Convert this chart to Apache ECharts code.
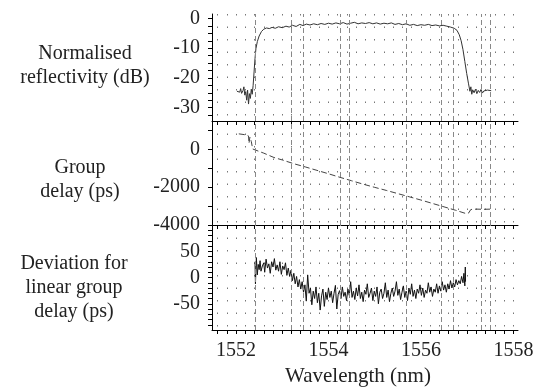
<!DOCTYPE html>
<html>
<head>
<meta charset="utf-8">
<script src="https://cdn.jsdelivr.net/npm/echarts@6/dist/echarts.min.js"></script>
<style>
  html, body { margin: 0; background: #fff; }
  #chart { width: 539px; height: 387px; }
</style>
</head>
<body>
<div id="chart"></div>
<script>
// wavelength axis (nm)
const wlLabels = [1552, 1554, 1556, 1558];
const wlTicks = [1551.6, 1551.8, 1552, 1552.2, 1552.4, 1552.6, 1552.8, 1553, 1553.2, 1553.4, 1553.6, 1553.8,
  1554, 1554.2, 1554.4, 1554.6, 1554.8, 1555, 1555.2, 1555.4, 1555.6, 1555.8, 1556, 1556.2, 1556.4,
  1556.6, 1556.8, 1557, 1557.2, 1557.4, 1557.6, 1557.8, 1558];
// darker dashed grid lines seen in the scan
const darkWl = [1552.41, 1553.2, 1553.45, 1554.25, 1554.45, 1555.68, 1556.45, 1556.7, 1557.3, 1557.5];

const reflLabels = [-30, -20, -10, 0];
const reflTicks = [-32.5, -30, -27.5, -25, -22.5, -20, -17.5, -15, -12.5, -10, -7.5, -5, -2.5, 0];
const delayLabels = [-4000, -2000, 0];
const delayTicks = [-4000, -3000, -2000, -1000, 0, 1000];
const devLabels = [-50, 0, 50];
const devTicks = [-90, -80, -70, -60, -50, -40, -30, -20, -10, 0, 10, 20, 30, 40, 50, 60, 70, 80, 90];

// normalised reflectivity [nm, dB]
const reflPts = [
  [1552.02, -24.5], [1552.05, -24.0], [1552.08, -24.8], [1552.10, -23.6], [1552.12, -25.2], [1552.15, -24.3],
  [1552.17, -23.0], [1552.19, -25.8], [1552.21, -24.6], [1552.23, -27.5], [1552.25, -24.1], [1552.27, -28.8],
  [1552.29, -25.3], [1552.31, -26.9], [1552.33, -23.8], [1552.35, -25.5], [1552.37, -22.5], [1552.39, -18.0],
  [1552.41, -13.5], [1552.43, -10.2], [1552.46, -7.8], [1552.50, -5.9], [1552.55, -4.4], [1552.60, -3.6],
  [1552.66, -3.2], [1552.72, -3.4], [1552.78, -3.0], [1552.85, -3.3], [1552.92, -2.8], [1553.00, -3.1],
  [1553.08, -2.6], [1553.15, -2.9], [1553.22, -2.3], [1553.30, -2.7], [1553.38, -2.0], [1553.45, -2.4],
  [1553.52, -1.9], [1553.60, -2.2], [1553.68, -1.8], [1553.76, -2.1], [1553.84, -1.7], [1553.92, -2.0],
  [1554.00, -1.6], [1554.08, -1.9], [1554.16, -1.5], [1554.24, -1.8], [1554.32, -1.4], [1554.40, -1.9],
  [1554.48, -1.6], [1554.56, -1.3], [1554.64, -1.8], [1554.72, -1.5], [1554.80, -1.7], [1554.88, -1.4],
  [1554.96, -1.8], [1555.04, -1.5], [1555.12, -1.9], [1555.20, -1.6], [1555.28, -1.8], [1555.36, -1.5],
  [1555.44, -2.0], [1555.52, -1.7], [1555.60, -2.1], [1555.68, -1.8], [1555.76, -2.3], [1555.84, -2.0],
  [1555.92, -2.4], [1556.00, -2.1], [1556.08, -2.3], [1556.16, -2.0], [1556.24, -2.4], [1556.32, -2.2],
  [1556.40, -2.5], [1556.48, -2.3], [1556.56, -2.6], [1556.64, -2.9], [1556.72, -3.3], [1556.78, -4.0],
  [1556.83, -5.5], [1556.87, -7.5], [1556.91, -10.5], [1556.95, -14.5], [1556.99, -18.5], [1557.03, -22.0],
  [1557.06, -24.5], [1557.08, -23.0], [1557.10, -25.5], [1557.12, -24.0], [1557.15, -25.0], [1557.18, -23.8],
  [1557.21, -25.3], [1557.24, -24.2], [1557.27, -24.9], [1557.30, -23.9], [1557.33, -25.1], [1557.36, -24.4],
  [1557.40, -24.8], [1557.44, -24.1], [1557.48, -24.7], [1557.52, -24.3]
];

// group delay [nm, ps]
const delayPts = [
  [1552.06, 820], [1552.10, 800], [1552.15, 790], [1552.20, 770], [1552.24, 740], [1552.27, 710],
  [1552.28, 320], [1552.30, 650], [1552.33, 420], [1552.36, 20], [1552.40, -20], [1552.60, -200],
  [1552.82, -430], [1553.00, -560], [1553.25, -760], [1553.50, -930], [1553.75, -1110], [1554.00, -1290],
  [1554.25, -1480], [1554.50, -1660], [1554.75, -1840], [1555.00, -2010], [1555.25, -2170], [1555.50, -2340],
  [1555.75, -2510], [1556.00, -2680], [1556.25, -2860], [1556.50, -3040], [1556.75, -3220], [1556.98, -3400],
  [1557.03, -3370], [1557.08, -3180], [1557.20, -3160], [1557.35, -3170], [1557.52, -3160]
];

// deviation from linear group delay [nm, ps]
const devPts = [
  [1552.41, 30], [1552.42, -12], [1552.44, 38], [1552.46, 5], [1552.48, 25], [1552.50, 15], [1552.52, 32],
  [1552.54, 12], [1552.57, 22], [1552.60, 28], [1552.62, 10], [1552.65, 35], [1552.68, 18], [1552.71, 26],
  [1552.74, 8], [1552.77, 30], [1552.80, 20], [1552.83, 36], [1552.86, 14], [1552.89, 24], [1552.92, 12],
  [1552.95, 30], [1552.98, 6], [1553.01, 22], [1553.04, 15], [1553.07, 28], [1553.10, 4], [1553.13, 18],
  [1553.16, 2], [1553.19, 14], [1553.22, -6], [1553.25, 8], [1553.28, -12], [1553.31, 2], [1553.34, -18],
  [1553.37, -4], [1553.40, -22], [1553.43, -8], [1553.46, -28], [1553.49, -14], [1553.52, -45], [1553.55, 5],
  [1553.58, -30], [1553.61, -20], [1553.64, -52], [1553.67, -26], [1553.70, -40], [1553.73, -18], [1553.76, -48],
  [1553.79, -30], [1553.82, -62], [1553.85, -35], [1553.88, -22], [1553.91, -55], [1553.94, -28], [1553.97, -42],
  [1554.00, -20], [1554.03, -38], [1554.06, -26], [1554.09, -48], [1554.12, -30], [1554.15, -15], [1554.18, -60],
  [1554.21, -32], [1554.24, -25], [1554.27, -40], [1554.30, -18], [1554.33, -36], [1554.36, -28], [1554.39, -44],
  [1554.42, -22], [1554.45, -34], [1554.48, -8], [1554.51, -38], [1554.54, -26], [1554.57, -42], [1554.60, -20],
  [1554.63, -35], [1554.66, -14], [1554.69, -40], [1554.72, -28], [1554.75, -46], [1554.78, -24], [1554.81, -32],
  [1554.84, -12], [1554.87, -38], [1554.90, -30], [1554.93, -20], [1554.96, -44], [1554.99, -26], [1555.02, -36],
  [1555.05, -18], [1555.08, -50], [1555.11, -28], [1555.14, -22], [1555.17, -40], [1555.20, -30], [1555.23, -10],
  [1555.26, -38], [1555.29, -24], [1555.32, -46], [1555.35, -30], [1555.38, -20], [1555.41, -36], [1555.44, -26],
  [1555.47, -8], [1555.50, -34], [1555.53, -22], [1555.56, -42], [1555.59, -28], [1555.62, -16], [1555.65, -38],
  [1555.68, -26], [1555.71, -44], [1555.74, -20], [1555.77, -32], [1555.80, -12], [1555.83, -36], [1555.86, -24],
  [1555.89, -40], [1555.92, -22], [1555.95, -30], [1555.98, -14], [1556.01, -34], [1556.04, -20], [1556.07, -38],
  [1556.10, -24], [1556.13, -30], [1556.16, -10], [1556.19, -28], [1556.22, -18], [1556.25, -36], [1556.28, -22],
  [1556.31, -28], [1556.34, -12], [1556.37, -30], [1556.40, -16], [1556.43, -26], [1556.46, -8], [1556.49, -24],
  [1556.52, -14], [1556.55, -28], [1556.58, -12], [1556.61, -22], [1556.64, -6], [1556.67, -20], [1556.70, -10],
  [1556.73, -18], [1556.76, -4], [1556.79, -14], [1556.82, -6], [1556.85, -12], [1556.88, 2], [1556.91, -10],
  [1556.93, 8], [1556.95, -16], [1556.96, 20], [1556.965, -8]
];

const FONT = 'Liberation Serif';
const INK = '#222';
const plain = v => String(v);

const chart = echarts.init(document.getElementById('chart'));

const gridBox = [
  { top: 14, height: 107 },
  { top: 121, height: 104 },
  { top: 225, height: 105 }
];

const xAxes = gridBox.map((g, i) => ({
  type: 'value',
  gridIndex: i,
  min: 1551.48,
  max: 1558.1,
  axisLine: { show: true, onZero: false, lineStyle: { color: '#000', width: 1 } },
  axisTick: { show: true, length: 4, customValues: wlTicks, lineStyle: { color: '#000' } },
  axisLabel: {
    show: i === 2, customValues: wlLabels, margin: 11, formatter: plain,
    fontFamily: FONT, fontSize: 20, color: INK
  },
  splitLine: { show: true, lineStyle: { color: '#777', width: 1, type: [1.5, 11] } }
}));

function yAxis(i, min, max, ticks, labels) {
  return {
    type: 'value',
    gridIndex: i,
    min: min,
    max: max,
    axisLine: { show: true, lineStyle: { color: '#000', width: 1 } },
    axisTick: { show: true, length: 4, customValues: ticks, lineStyle: { color: '#000' } },
    axisLabel: { customValues: labels, margin: 12, formatter: plain, fontFamily: FONT, fontSize: 20, color: INK },
    splitLine: { show: false }
  };
}

const darkLines = {
  silent: true,
  symbol: 'none',
  label: { show: false },
  lineStyle: { color: '#888', width: 1, type: [5, 3] },
  data: darkWl.map(v => ({ xAxis: v }))
};

function lineSeries(i, pts, color, dash) {
  return {
    type: 'line',
    xAxisIndex: i,
    yAxisIndex: i,
    data: pts,
    showSymbol: false,
    lineStyle: { color: color, width: 1, type: dash || 'solid' },
    markLine: darkLines
  };
}

const titles = [
  { x: 85, y: 66, size: 20, text: 'Normalised\nreflectivity (dB)' },
  { x: 80, y: 180, size: 20, text: 'Group\ndelay (ps)' },
  { x: 74, y: 288, size: 20, text: 'Deviation for\nlinear group\ndelay (ps)' },
  { x: 358, y: 376, size: 21, text: 'Wavelength (nm)' }
];

chart.setOption({
  animation: false,
  backgroundColor: '#fff',
  grid: gridBox.map(g => ({ left: 212, right: 21, top: g.top, height: g.height })),
  xAxis: xAxes,
  yAxis: [
    yAxis(0, -34.5, 1.5, reflTicks, reflLabels),
    yAxis(1, -4000, 1500, delayTicks, delayLabels),
    yAxis(2, -100, 100, devTicks, devLabels)
  ],
  series: [
    lineSeries(0, reflPts, '#333'),
    lineSeries(1, delayPts, '#444', [6, 3]),
    lineSeries(2, devPts, '#111')
  ],
  graphic: titles.map(t => ({
    type: 'text',
    x: t.x,
    y: t.y,
    style: {
      text: t.text,
      fontFamily: FONT,
      fontSize: t.size,
      lineHeight: 24,
      fill: INK,
      align: 'center',
      verticalAlign: 'middle'
    }
  }))
});
</script>
</body>
</html>
